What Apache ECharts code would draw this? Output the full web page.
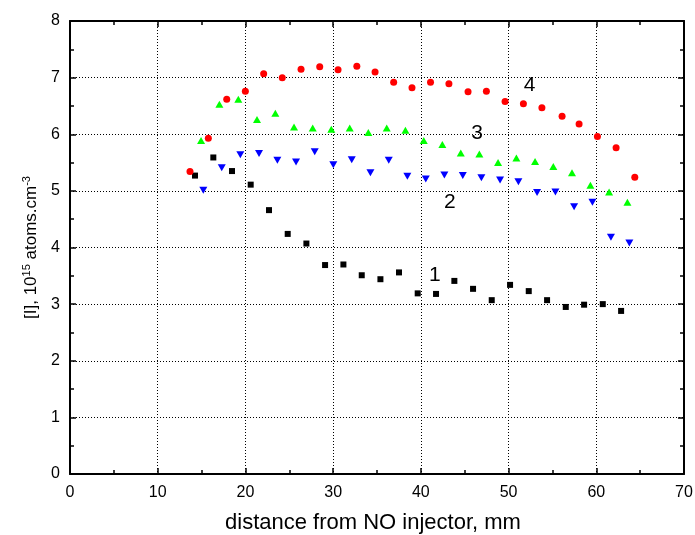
<!DOCTYPE html>
<html><head><meta charset="utf-8">
<script src="https://cdn.jsdelivr.net/npm/echarts@6/dist/echarts.min.js"></script>
<style>html,body{margin:0;padding:0;background:#fff}#c{width:695px;height:535px}</style>
</head><body><div id="c"></div>
<script>
var s1x = [14.25,16.34,18.47,20.6,22.69,24.82,26.95,29.08,31.17,33.26,35.39,37.51,39.64,41.73,43.82,45.95,48.08,50.17,52.3,54.39,56.52,58.61,60.74,62.83];
var s1y = [5.27,5.59,5.35,5.11,4.66,4.24,4.07,3.69,3.70,3.51,3.44,3.56,3.19,3.18,3.41,3.27,3.07,3.34,3.23,3.07,2.95,2.99,3.00,2.88];
var s2x = [15.2,17.3,19.42,21.55,23.64,25.77,27.9,30.02,32.12,34.25,36.34,38.46,40.56,42.68,44.78,46.9,49.03,51.12,53.25,55.34,57.47,59.56,61.67,63.77];
var s2y = [5.01,5.41,5.64,5.66,5.54,5.51,5.69,5.46,5.55,5.32,5.54,5.26,5.21,5.28,5.27,5.23,5.19,5.16,4.97,4.98,4.72,4.80,4.18,4.08];
var s3x = [14.94,17.03,19.19,21.32,23.41,25.54,27.67,29.79,31.89,34.01,36.11,38.24,40.33,42.45,44.55,46.67,48.8,50.89,53.02,55.1,57.23,59.33,61.46,63.55];
var s3y = [5.89,6.53,6.62,6.26,6.37,6.13,6.11,6.09,6.11,6.03,6.11,6.07,5.89,5.82,5.67,5.65,5.50,5.58,5.52,5.43,5.32,5.10,4.98,4.80];
var s4x = [13.68,15.77,17.87,19.99,22.08,24.2,26.34,28.47,30.56,32.7,34.78,36.9,38.99,41.1,43.2,45.38,47.47,49.6,51.69,53.8,56.1,58.04,60.13,62.26,64.39];
var s4y = [5.34,5.93,6.62,6.76,7.07,7.00,7.15,7.19,7.14,7.20,7.10,6.92,6.82,6.92,6.89,6.75,6.76,6.58,6.54,6.47,6.32,6.18,5.96,5.76,5.24];
var annX = [41.6,43.3,46.4,52.4];
var annY = [3.51,4.80,6.02,6.86];
var annText = ['1','2','3','4'];

function zip(a,b){return a.map(function(v,i){return [v,b[i]];});}
var FONT = 'Liberation Sans';
function axisBase(pos, isX, showLabel){
  return {
    type:'value', position:pos,
    min:0, max: isX?70:8, interval: isX?10:1,
    axisLine:{show:true,onZero:false,lineStyle:{color:'#000',width:2}},
    axisTick:{show:true,inside:true,length:6,lineStyle:{color:'#000',width:1.5}},
    minorTick:{show:true,splitNumber:2,length:4,lineStyle:{color:'#000',width:1.5}},
    axisLabel:{show:showLabel,color:'#000',fontFamily:FONT,fontSize:16,margin:isX?11:10},
    splitLine:{show:showLabel,lineStyle:{color:'#000',type:[1,2],width:1}}
  };
}
var xB = axisBase('bottom',true,true);
xB.name='distance from NO injector, mm'; xB.nameLocation='middle'; xB.nameGap=38;
xB.nameTextStyle={color:'#000',fontFamily:FONT,fontSize:22,padding:[0,8,0,0]};
var yL = axisBase('left',false,true);
yL.name='{a|[I], 10}{s|15}{a| atoms.cm}{s|-3}'; yL.nameLocation='middle'; yL.nameGap=28;
yL.nameTextStyle={color:'#000',fontFamily:FONT,fontSize:17,
  rich:{a:{fontFamily:FONT,fontSize:17,color:'#000'},s:{fontFamily:FONT,fontSize:11,color:'#000',padding:[0,0,9,0]}}};
var xT = axisBase('top',true,false);
var yR = axisBase('right',false,false);

var chart = echarts.init(document.getElementById('c'),null,{renderer:'canvas'});
chart.setOption({
  animation:false,
  backgroundColor:'#fff',
  grid:{left:70,right:11,top:21,bottom:61,containLabel:false,outerBoundsMode:'none'},
  xAxis:[xB,xT],
  yAxis:[yL,yR],
  series:[
    {type:'scatter',data:zip(s1x,s1y),symbol:'rect',symbolSize:6,itemStyle:{color:'#000',opacity:1}},
    {type:'scatter',data:zip(s2x,s2y),symbol:'triangle',symbolRotate:180,symbolSize:[8,7],itemStyle:{color:'#0000ff',opacity:1}},
    {type:'scatter',data:zip(s3x,s3y),symbol:'triangle',symbolSize:[8,7],itemStyle:{color:'#00ff00',opacity:1}},
    {type:'scatter',data:zip(s4x,s4y),symbol:'circle',symbolSize:7,itemStyle:{color:'#ff0000',opacity:1}},
    {type:'scatter',data:annX.map(function(v,i){return {value:[v,annY[i]],name:annText[i]};}),symbolSize:0,
     itemStyle:{opacity:1},
     label:{show:true,position:'inside',formatter:function(p){return p.name;},color:'#000',fontFamily:FONT,fontSize:21}}
  ]
});
</script></body></html>
